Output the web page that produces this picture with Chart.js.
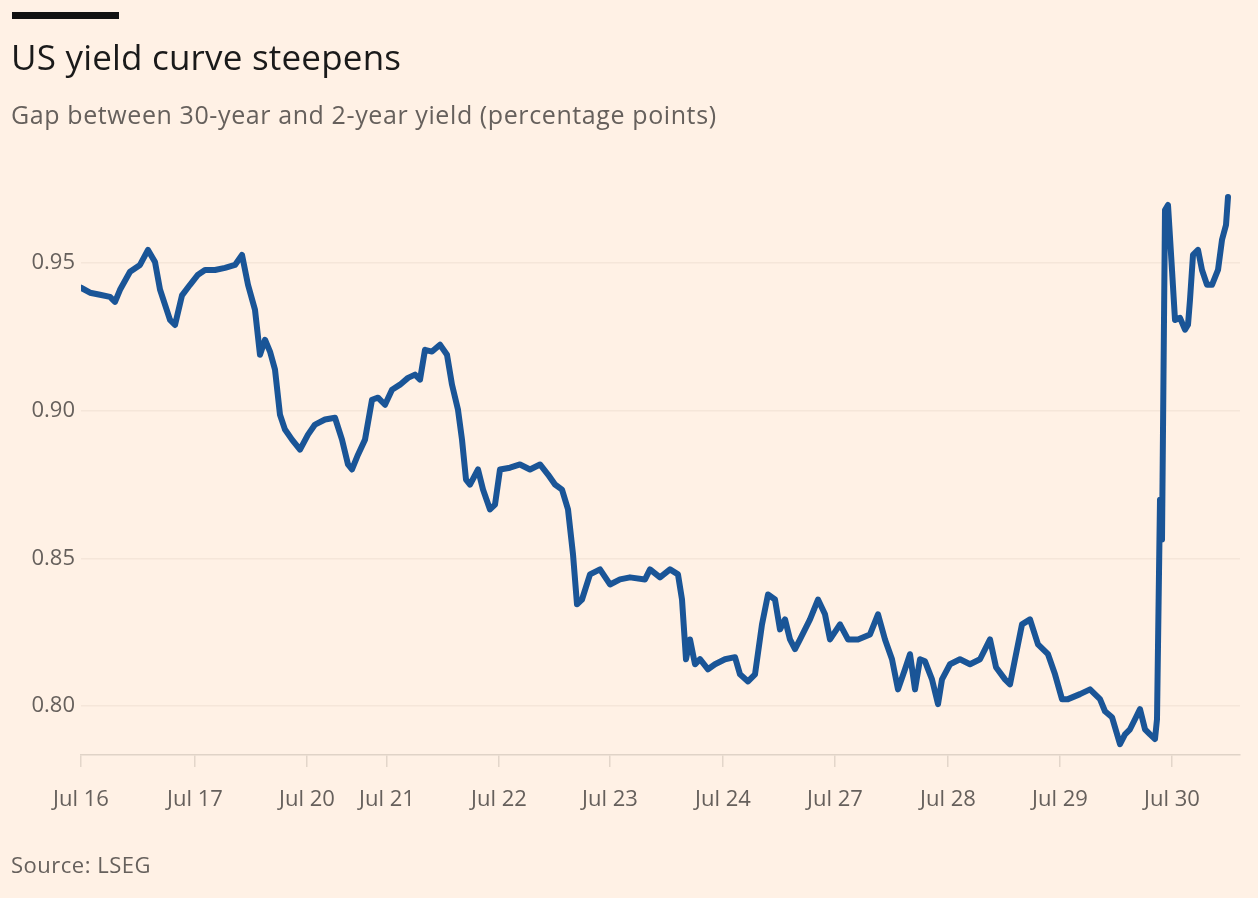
<!DOCTYPE html>
<html>
<head>
<meta charset="utf-8">
<script src="https://cdn.jsdelivr.net/npm/chart.js@4.4.1/dist/chart.umd.min.js"></script>
<style>
  html, body { margin:0; padding:0; background:#fff1e5; }
  body { width:1258px; height:898px; position:relative; overflow:hidden; font-family:"Open Sans", "Noto Sans", sans-serif; }
  #bar { position:absolute; left:12px; top:12px; width:107px; height:7px; background:#111; }
  #title { position:absolute; left:11px; top:33px; font-size:35px; color:#1a1a1a; letter-spacing:0.2px; }
  #sub { position:absolute; left:11px; top:97px; font-size:25px; color:#66605c; letter-spacing:0.6px; }
  #src { position:absolute; left:11px; top:849px; font-size:22px; color:#66605c; letter-spacing:0.5px; }
  #wrap { position:absolute; left:0; top:0; width:1258px; height:898px; }
</style>
</head>
<body>
<div id="wrap"><canvas id="c"></canvas></div>
<div id="bar"></div>
<div id="title">US yield curve steepens</div>
<div id="sub">Gap between 30-year and 2-year yield (percentage points)</div>
<div id="src">Source: LSEG</div>
<script>
// session time index (trading-time units) and tick positions
const tickPos = [0, 114, 226, 306, 418, 529, 642, 754, 867, 979, 1091];
const tickLabels = ['Jul 16','Jul 17','Jul 20','Jul 21','Jul 22','Jul 23','Jul 24','Jul 27','Jul 28','Jul 29','Jul 30'];
const yTicks = [0.80, 0.85, 0.90, 0.95];

const times = [0,9,19,29,34,39,49,59,67,74,79,89,94,101,109,117,124,134,144,154,161,167,174,179,184,189,194,199,204,211,219,227,234,244,254,261,267,271,277,284,291,297,304,311,319,327,334,339,344,351,359,366,371,377,381,385,389,397,402,409,414,419,429,439,449,459,467,474,481,487,492,496,501,509,519,529,539,549,564,569,579,589,597,601,605,609,614,619,627,634,644,654,659,667,674,681,687,694,699,704,709,714,719,729,737,744,749,759,767,777,789,797,804,811,817,824,829,834,839,844,851,857,861,869,879,889,899,909,915,924,929,934,941,949,957,967,974,981,987,999,1009,1019,1024,1031,1039,1044,1049,1054,1059,1064,1069,1074,1076,1079,1081,1084,1087,1091,1094,1099,1104,1107,1109,1112,1117,1121,1126,1131,1137,1141,1145,1147];
const gap = [0.9416,0.9399,0.9392,0.9385,0.9368,0.9409,0.947,0.9493,0.9544,0.9503,0.941,0.9307,0.929,0.939,0.9426,0.946,0.9476,0.9476,0.9483,0.9493,0.9527,0.9426,0.9341,0.9189,0.924,0.92,0.9139,0.8986,0.8936,0.8902,0.8868,0.8919,0.8953,0.897,0.8976,0.8902,0.8818,0.8801,0.8851,0.8902,0.9037,0.9044,0.902,0.9071,0.9088,0.9111,0.9122,0.9105,0.9206,0.92,0.9223,0.9189,0.9088,0.9003,0.8902,0.8767,0.875,0.8801,0.8733,0.8666,0.8682,0.8801,0.8807,0.8818,0.8801,0.8818,0.8784,0.875,0.8733,0.8666,0.8514,0.8345,0.8361,0.8446,0.8463,0.8412,0.8429,0.8436,0.8429,0.8463,0.8436,0.8463,0.8446,0.8361,0.8159,0.8226,0.8142,0.8159,0.8125,0.8142,0.8159,0.8166,0.8108,0.8084,0.8108,0.8277,0.8378,0.8361,0.826,0.8294,0.8226,0.8193,0.8226,0.8294,0.8361,0.8311,0.8226,0.8277,0.8226,0.8226,0.8243,0.8311,0.8226,0.8159,0.8057,0.8125,0.8176,0.8057,0.8159,0.8152,0.8091,0.8007,0.8091,0.8142,0.8159,0.8142,0.8159,0.8226,0.8132,0.8091,0.8074,0.8159,0.8277,0.8294,0.8209,0.8176,0.8108,0.8024,0.8024,0.8041,0.8057,0.8024,0.7983,0.7963,0.7872,0.7905,0.7922,0.7956,0.799,0.7922,0.7905,0.7889,0.7956,0.8699,0.8564,0.9679,0.9696,0.9476,0.9307,0.9314,0.9274,0.9291,0.9375,0.9527,0.9544,0.9476,0.9426,0.9426,0.9476,0.9578,0.9628,0.9723];

const points = times.map((t, i) => ({ x: t, y: gap[i] }));
const tickColor = '#66605c';

new Chart(document.getElementById('c'), {
  type: 'line',
  data: { datasets: [{ data: points, borderColor: '#1a5597', borderWidth: 6, pointRadius: 0, tension: 0, borderJoinStyle: 'round', borderCapStyle: 'round' }] },
  options: {
    responsive: true, maintainAspectRatio: false, animation: false,
    layout: { padding: { top: 189, right: 18, left: 0, bottom: 0 } },
    plugins: { legend: { display: false }, tooltip: { enabled: false } },
    scales: {
      x: {
        type: 'linear', min: 0, max: 1159,
        afterFit: s => { s.height = 143; },
        afterBuildTicks: s => { s.ticks = tickPos.map(v => ({ value: v })); },
        ticks: { autoSkip: false, maxRotation: 0, padding: 20, color: tickColor, font: { family: 'Open Sans', size: 22 },
                 callback: (v) => tickLabels[tickPos.indexOf(v)] },
        grid: { drawOnChartArea: false, drawTicks: true, tickLength: 12, color: '#e3d6ca', lineWidth: 1.5 },
        border: { color: '#e0d3c7', width: 1.5 }
      },
      y: {
        min: 0.7835, max: 0.975,
        afterFit: s => { s.width = 81; },
        afterBuildTicks: s => { s.ticks = yTicks.map(v => ({ value: v })); },
        ticks: { color: tickColor, padding: 6, font: { family: 'Open Sans', size: 22 }, callback: v => v.toFixed(2) },
        grid: { color: '#f5e6d9', lineWidth: 1.5, drawTicks: false },
        border: { display: false }
      }
    }
  }
});
</script>
</body>
</html>
